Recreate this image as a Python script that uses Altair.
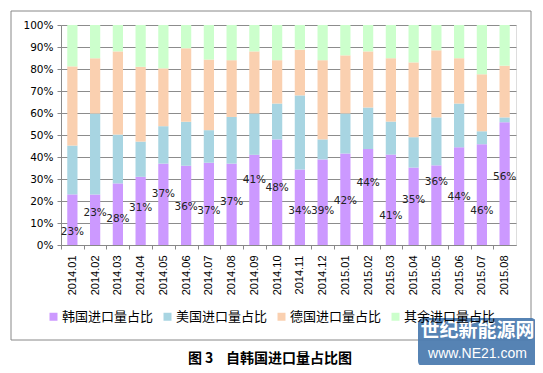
import altair as alt
import pandas as pd

categories = ["2014.01", "2014.02", "2014.03", "2014.04", "2014.05", "2014.06", "2014.07",
              "2014.08", "2014.09", "2014.10", "2014.11", "2014.12", "2015.01", "2015.02",
              "2015.03", "2015.04", "2015.05", "2015.06", "2015.07", "2015.08"]
series = ["韩国进口量占比", "美国进口量占比", "德国进口量占比", "其余进口量占比"]
korea = [23.0, 23.0, 28.0, 31.0, 37.0, 36.0, 37.4, 37.0, 41.0, 48.0, 34.3, 38.9, 41.6, 43.6,
         41.1, 35.2, 36.2, 44.4, 45.8, 55.8]
usa = [22.2, 36.8, 22.2, 16.0, 17.0, 20.0, 14.8, 21.2, 18.8, 16.3, 33.7, 9.1, 18.2, 18.9,
       15.0, 13.8, 21.8, 19.9, 5.9, 2.2]
germany = [36.0, 25.1, 37.8, 34.0, 26.3, 33.4, 32.1, 25.8, 28.2, 19.7, 20.8, 36.0, 26.4, 25.5,
           28.8, 34.0, 30.5, 20.6, 25.9, 23.5]
other = [18.8, 15.1, 12.0, 19.0, 19.7, 10.6, 15.7, 16.0, 12.0, 16.0, 11.2, 16.0, 13.8, 12.0,
         15.1, 17.0, 11.5, 15.1, 22.4, 18.5]
# where each Korea data label sits (value units, as placed in the original)
label_pos = [5.7, 14.4, 11.8, 17.0, 23.0, 17.4, 15.6, 19.7, 29.5, 26.0, 15.6, 15.6, 20.0, 28.3,
             13.2, 20.4, 28.6, 21.6, 15.3, 31.0]
y_ticks = [0, 10, 20, 30, 40, 50, 60, 70, 80, 90, 100]
colors = ["#CC99FF", "#A8D5E2", "#FAD0B0", "#CCFFCC"]
caption = "图 3\u00a0\u00a0\u00a0\u00a0自韩国进口量占比图"
wm_title = "世纪新能源网"
wm_url = "www.NE21.com"

rows = []
for vals, name, idx in zip([korea, usa, germany, other], series, range(4)):
    for c, v in zip(categories, vals):
        rows.append({"cat": c, "series": name, "value": v, "order": idx})
df = pd.DataFrame(rows)
lab = pd.DataFrame({"cat": categories, "pos": label_pos,
                    "text": [f"{round(v)}%" for v in korea]})

W, H = 455, 220
step = W / len(categories)

xscale = alt.Scale(domain=categories, paddingInner=0.55, paddingOuter=0.275)
yscale = alt.Scale(domain=[0, 100], nice=False)
xaxis = alt.Axis(title=None, labelAngle=270, labelAlign="right", labelBaseline="middle",
                 labelFont="Liberation Sans", labelFontSize=11, labelColor="#000",
                 labelPadding=6, tickSize=4, tickColor="#888", domainColor="#888",
                 tickOffset=-step / 2, labelOffset=step / 2)
yaxis = alt.Axis(title=None, values=y_ticks, labelOverlap=False,
                 labelExpr="datum.value + '%'", labelFont="DejaVu Sans",
                 labelFontSize=10.5, labelColor="#000", labelPadding=4,
                 tickSize=4, tickColor="#888", domainColor="#888",
                 gridColor="#8c8c8c", gridWidth=1)

bars = alt.Chart(df).mark_bar().encode(
    x=alt.X("cat:N", scale=xscale, sort=categories, axis=xaxis),
    y=alt.Y("value:Q", stack="zero", scale=yscale, axis=yaxis),
    color=alt.Color("series:N", scale=alt.Scale(domain=series, range=colors), sort=series,
                    legend=alt.Legend(orient="none", legendX=-14, legendY=285,
                                      direction="horizontal", title=None, symbolType="square",
                                      symbolSize=64, symbolStrokeWidth=0,
                                      labelFont="Noto Sans CJK SC", labelFontSize=13,
                                      labelColor="#000", columnPadding=7, labelOffset=2,
                                      padding=0)),
    order=alt.Order("order:Q"),
)

labels = alt.Chart(lab).mark_text(font="DejaVu Sans", fontSize=10.5, color="#222").encode(
    x=alt.X("cat:N", scale=xscale, sort=categories, axis=xaxis),
    y=alt.Y("pos:Q", scale=yscale, axis=yaxis),
    text="text:N",
)

frame = alt.Chart(pd.DataFrame({"a": [0]})).mark_rect(
    fillOpacity=0, stroke="#888", strokeWidth=1).encode(
    x=alt.value(-50), x2=alt.value(470), y=alt.value(-14), y2=alt.value(315))

cap = alt.Chart(pd.DataFrame({"t": [caption]})).mark_text(
    font="Noto Sans CJK SC", fontWeight="bold", fontSize=14, color="#000").encode(
    x=alt.value(209), y=alt.value(334), text="t:N")

wm_box = alt.Chart(pd.DataFrame({"a": [0]})).mark_rect(
    fill="#4D7CB0", cornerRadius=6, opacity=0.95).encode(
    x=alt.value(357), x2=alt.value(476), y=alt.value(293), y2=alt.value(342))
wm_t1 = alt.Chart(pd.DataFrame({"t": [wm_title]})).mark_text(
    font="Noto Sans CJK SC", fontWeight="bold", fontSize=19, color="#fff").encode(
    x=alt.value(416.5), y=alt.value(306), text="t:N")
wm_t2 = alt.Chart(pd.DataFrame({"t": [wm_url]})).mark_text(
    font="Liberation Sans", fontSize=14, color="#fff").encode(
    x=alt.value(416.5), y=alt.value(329), text="t:N")

chart = alt.layer(frame, bars, labels, cap, wm_box, wm_t1, wm_t2).properties(
    width=W, height=H, autosize=alt.AutoSizeParams(type="none"),
    padding={"left": 53, "top": 17, "right": 19, "bottom": 120},
).configure_view(stroke=None).configure(background="white")

chart.save("out.html", embed_options={"renderer": "svg", "actions": False})
